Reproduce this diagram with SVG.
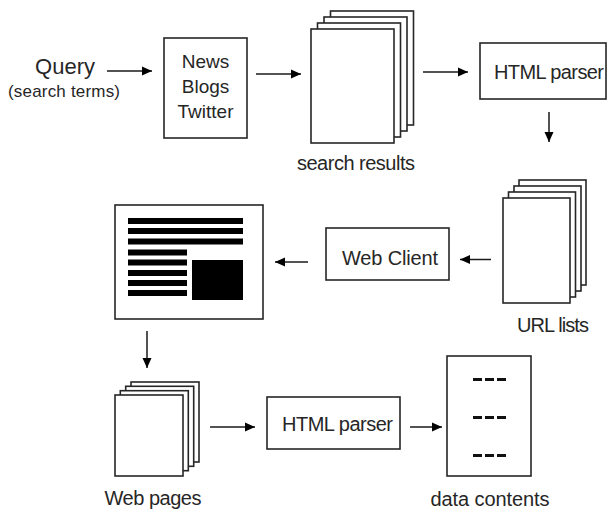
<svg xmlns="http://www.w3.org/2000/svg" width="607" height="511" viewBox="0 0 607 511">
<style>
text{font-family:"Liberation Sans",Arial,sans-serif;fill:#262626}
.box{fill:#fff;stroke:#262626;stroke-width:1.6}
.pg{fill:#fff;stroke:#262626;stroke-width:1.6}
.ln{stroke:#1a1a1a;stroke-width:1.5;fill:none;marker-end:url(#ah)}
.bar{fill:#000}
.dash{stroke:#111;stroke-width:3.2;stroke-dasharray:9 3}
</style>
<defs>
<marker id="ah" markerUnits="userSpaceOnUse" markerWidth="12" markerHeight="10" refX="10" refY="5" orient="auto">
<path d="M0,0.5 L10,5 L0,9.5 Z" fill="#000"/>
</marker>
</defs>
<rect width="607" height="511" fill="#fff"/>

<g id="query">
<text x="65" y="74" font-size="22" text-anchor="middle" textLength="60">Query</text>
<text x="64" y="97" font-size="17" text-anchor="middle" textLength="112">(search terms)</text>
</g>

<g id="sources">
<rect class="box" x="164" y="38" width="83" height="100"/>
<text x="205.5" y="68" font-size="19" text-anchor="middle">News</text>
<text x="205.5" y="93" font-size="19" text-anchor="middle">Blogs</text>
<text x="205.5" y="118" font-size="19" text-anchor="middle">Twitter</text>
</g>

<g id="search-results">
<rect class="pg" x="330.5" y="11" width="83" height="114"/>
<rect class="pg" x="324" y="17" width="83" height="114"/>
<rect class="pg" x="317.5" y="23" width="83" height="114"/>
<rect class="pg" x="311" y="29" width="83" height="114"/>
<text x="356" y="170" font-size="20" text-anchor="middle" textLength="118">search results</text>
</g>

<g id="html-parser-1">
<rect class="box" x="480" y="43" width="126" height="56"/>
<text x="494" y="79" font-size="20" textLength="110">HTML parser</text>
</g>

<g id="url-lists">
<rect class="pg" x="519" y="180" width="67" height="105"/>
<rect class="pg" x="514" y="186" width="67" height="105"/>
<rect class="pg" x="508.5" y="192" width="67" height="105"/>
<rect class="pg" x="503" y="198" width="67" height="105"/>
<text x="553" y="332" font-size="20" text-anchor="middle" textLength="72">URL lists</text>
</g>

<g id="web-client">
<rect class="box" x="326" y="228" width="123" height="52"/>
<text x="342" y="265" font-size="20" textLength="96">Web Client</text>
</g>

<g id="web-page">
<rect class="box" x="115" y="205" width="148" height="114"/>
<rect class="bar" x="128" y="218" width="115" height="6"/>
<rect class="bar" x="128" y="228" width="115" height="6"/>
<rect class="bar" x="128" y="238.5" width="115" height="6"/>
<rect class="bar" x="128" y="249.5" width="59" height="6"/>
<rect class="bar" x="128" y="259.5" width="59" height="6"/>
<rect class="bar" x="128" y="270" width="59" height="6"/>
<rect class="bar" x="128" y="280" width="59" height="6"/>
<rect class="bar" x="128" y="290" width="59" height="6"/>
<rect class="bar" x="192" y="260" width="51" height="40"/>
</g>

<g id="web-pages">
<rect class="pg" x="131" y="382" width="68" height="80"/>
<rect class="pg" x="125.7" y="386.3" width="68" height="80"/>
<rect class="pg" x="120.3" y="390.7" width="68" height="80"/>
<rect class="pg" x="115" y="395" width="68" height="81"/>
<text x="153" y="505" font-size="20" text-anchor="middle" textLength="97">Web pages</text>
</g>

<g id="html-parser-2">
<rect class="box" x="267" y="397" width="133" height="52"/>
<text x="282" y="431" font-size="20" textLength="111">HTML parser</text>
</g>

<g id="data-contents">
<rect class="box" x="447" y="356" width="84" height="120"/>
<line class="dash" x1="473" y1="379.5" x2="506" y2="379.5"/>
<line class="dash" x1="473" y1="417.5" x2="506" y2="417.5"/>
<line class="dash" x1="473" y1="455.5" x2="506" y2="455.5"/>
<text x="490" y="506" font-size="20" text-anchor="middle" textLength="119">data contents</text>
</g>

<g id="connectors">
<line class="ln" x1="107" y1="71" x2="152" y2="71"/>
<line class="ln" x1="256" y1="74" x2="301" y2="74"/>
<line class="ln" x1="423" y1="72" x2="468" y2="72"/>
<line class="ln" x1="549" y1="112" x2="549" y2="142"/>
<line class="ln" x1="491" y1="259.5" x2="460" y2="259.5"/>
<line class="ln" x1="308" y1="262" x2="275" y2="262"/>
<line class="ln" x1="147" y1="331" x2="147" y2="368"/>
<line class="ln" x1="210" y1="427" x2="255" y2="427"/>
<line class="ln" x1="410" y1="427" x2="442" y2="427"/>
</g>
</svg>
